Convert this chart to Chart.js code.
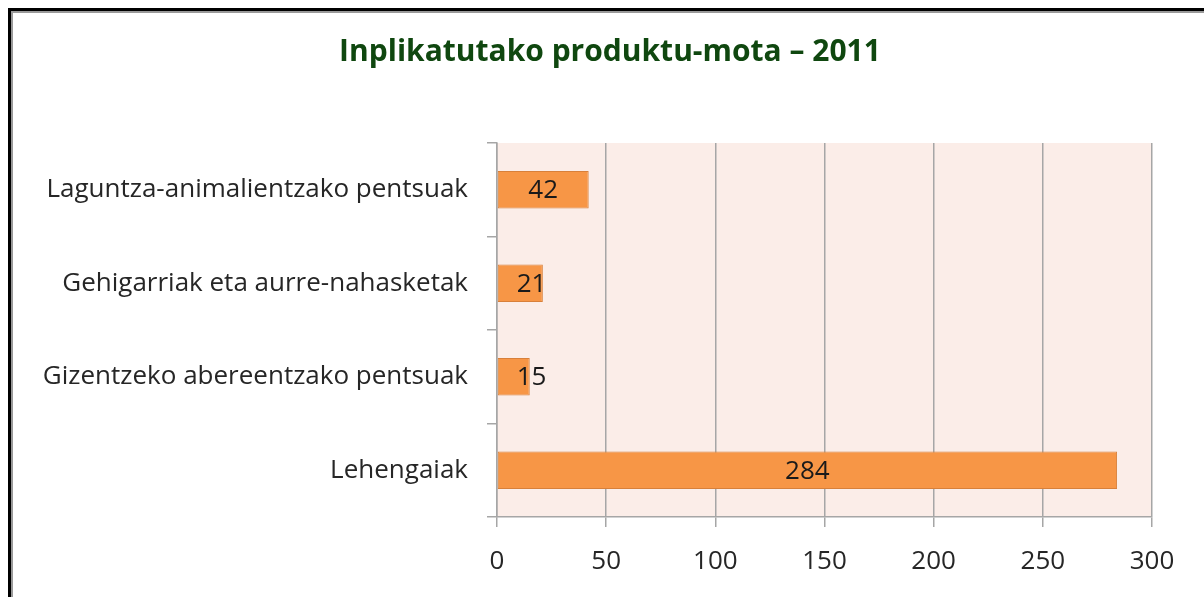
<!DOCTYPE html>
<html lang="eu">
<head>
  <meta charset="UTF-8">
  <title>Inplikatutako produktu-mota – 2011</title>
  <script src="https://cdn.jsdelivr.net/npm/chart.js"></script>
  <style>
    body { margin: 0; background: #fff; }
    #wrap { position: relative; width: 1204px; height: 597px; overflow: hidden; }
    #frame {
      position: absolute; left: 8px; top: 8px; width: 1300px; height: 700px;
      border-left: 3px solid #000; border-top: 3px solid #000;
      box-shadow: inset 2px 2px 0 #9a9a9a;
    }
    canvas { position: absolute; left: 0; top: 0; }
  </style>
</head>
<body>
  <div id="wrap">
    <div id="frame"></div>
    <canvas id="chart" width="1204" height="597"></canvas>
  </div>

  <script>
    const chartTitle = 'Inplikatutako produktu-mota – 2011';
    const categories = [
      'Laguntza-animalientzako pentsuak',
      'Gehigarriak eta aurre-nahasketak',
      'Gizentzeko abereentzako pentsuak',
      'Lehengaiak'
    ];
    const values = [42, 21, 15, 284];
    const xTicks = [0, 50, 100, 150, 200, 250, 300];

    const FONT = '"Open Sans", "Noto Sans", sans-serif';

    // pink plot background + title centred on the whole frame
    const decor = {
      id: 'decor',
      beforeDraw(chart) {
        const { ctx, chartArea: a } = chart;
        ctx.save();
        ctx.fillStyle = '#fbede8';
        ctx.fillRect(a.left, a.top, a.right - a.left, a.bottom - a.top);
        ctx.restore();
      },
      afterDraw(chart) {
        const ctx = chart.ctx;
        ctx.save();
        ctx.font = 'bold 30px ' + FONT;
        ctx.fillStyle = '#0f470f';
        ctx.textAlign = 'center';
        ctx.textBaseline = 'middle';
        ctx.fillText(chartTitle, 610, 52);
        ctx.restore();
      }
    };

    // value labels in the bars, pushed right when the bar is too short
    const barLabels = {
      id: 'barLabels',
      afterDatasetsDraw(chart) {
        const ctx = chart.ctx;
        const meta = chart.getDatasetMeta(0);
        ctx.save();
        ctx.font = '26px ' + FONT;
        ctx.fillStyle = '#1a1a1a';
        ctx.textAlign = 'center';
        ctx.textBaseline = 'middle';
        meta.data.forEach((bar, i) => {
          const txt = String(values[i]);
          const w = ctx.measureText(txt).width;
          let x = (bar.x + bar.base) / 2;
          x = Math.max(x, bar.base + 19 + w / 2);
          ctx.fillText(txt, x, bar.y + 1);
        });
        ctx.restore();
      }
    };

    new Chart(document.getElementById('chart'), {
      type: 'bar',
      data: {
        labels: categories,
        datasets: [{
          data: values,
          backgroundColor: '#f79646',
          borderColor: '#d8803a',
          borderWidth: 1,
          borderSkipped: false,
          barPercentage: 0.4,
          categoryPercentage: 1
        }]
      },
      options: {
        indexAxis: 'y',
        responsive: false,
        animation: false,
        layout: { padding: { top: 143, right: 52, left: 0, bottom: 0 } },
        plugins: {
          legend: { display: false },
          tooltip: { enabled: false }
        },
        scales: {
          x: {
            min: 0,
            max: 300,
            afterBuildTicks(scale) { scale.ticks = xTicks.map(v => ({ value: v })); },
            afterFit(scale) { scale.height = 80; },
            grid: { color: '#a6a6a6', lineWidth: 1.5, tickLength: 10 },
            border: { color: '#a6a6a6', width: 1.5 },
            ticks: {
              color: '#262626',
              font: { family: FONT, size: 26 },
              padding: 19
            }
          },
          y: {
            afterFit(scale) { scale.width = 497; },
            grid: {
              offset: true,
              drawOnChartArea: false,
              color: '#a6a6a6',
              lineWidth: 1.5,
              tickLength: 10
            },
            border: { color: '#a6a6a6', width: 1.5 },
            ticks: {
              color: '#262626',
              font: { family: FONT, size: 26 },
              padding: 19
            }
          }
        }
      },
      plugins: [decor, barLabels]
    });
  </script>
</body>
</html>
